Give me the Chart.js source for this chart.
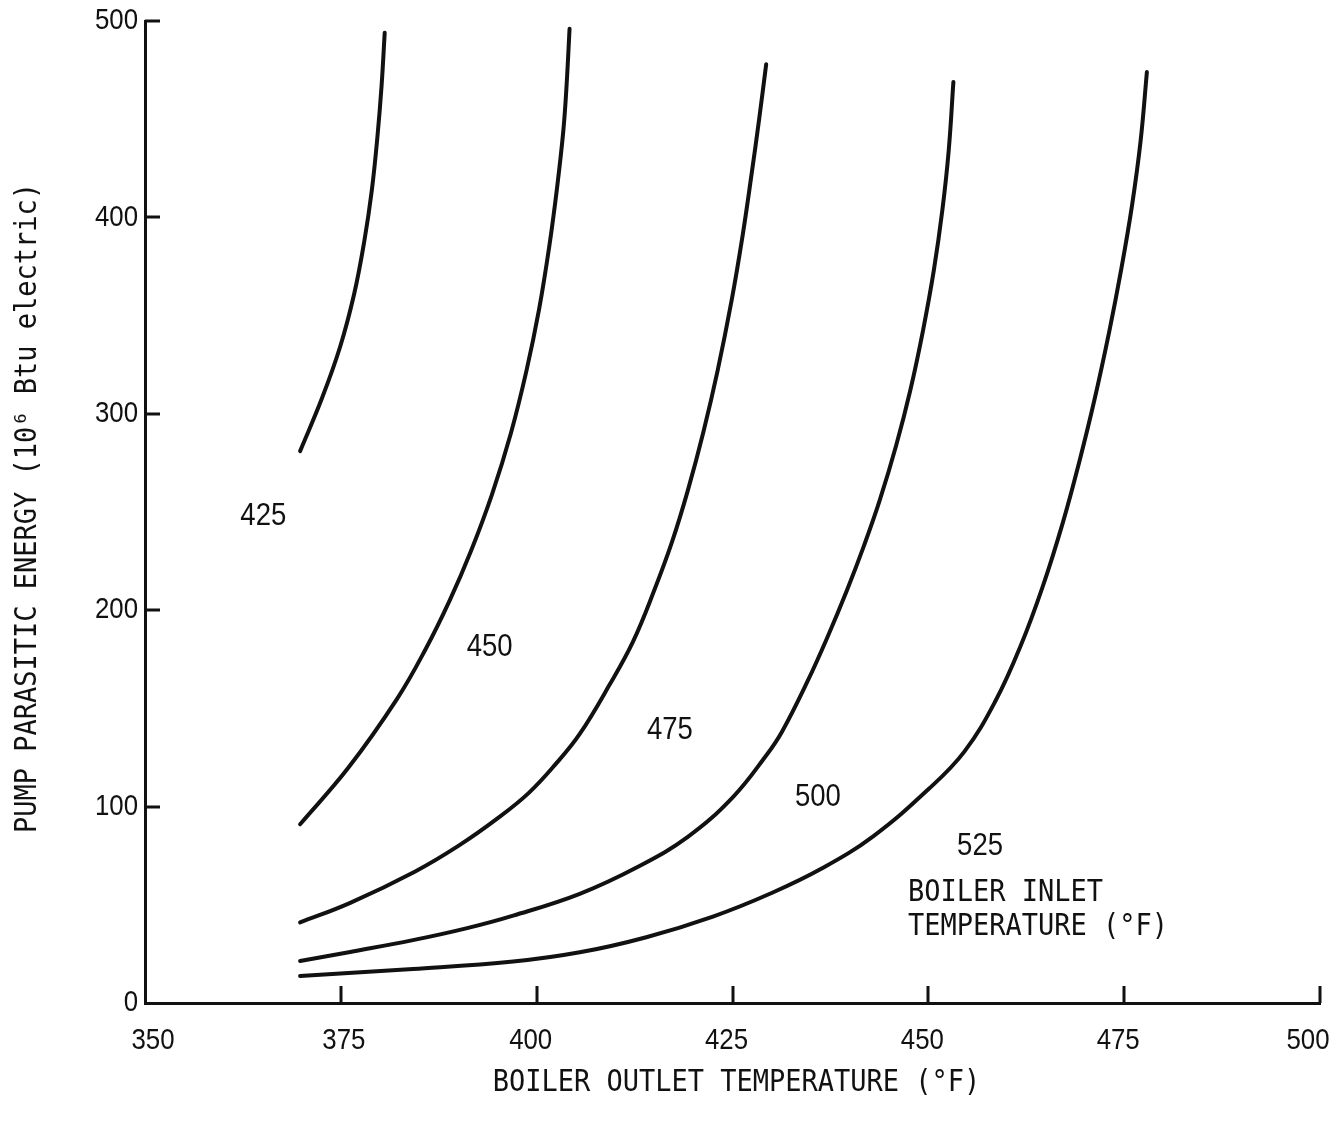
<!DOCTYPE html>
<html>
<head>
<meta charset="utf-8">
<script src="https://cdn.jsdelivr.net/npm/chart.js@4.4.1/dist/chart.umd.min.js"></script>
<style>
  html, body { margin: 0; padding: 0; background: #fff; }
  #wrap { width: 1336px; height: 1129px; }
</style>
</head>
<body>
<div id="wrap"><canvas id="chart" width="1336" height="1129"></canvas></div>
<script>
// Boiler inlet temperatures (°F), one curve each
const inletTemps = [425, 450, 475, 500, 525];

// Boiler outlet temperature (°F) and pump parasitic energy (10^6 Btu electric)
const outlet425 = [369.8, 372.6, 374.9, 376.7, 378.0, 378.96, 379.67, 380.2, 380.6];
const energy425 = [281, 308, 334, 361, 388, 414, 441, 467, 494];

const outlet450 = [369.8, 376.0, 382.2, 385.8, 388.9, 391.6, 394.3, 396.7, 398.7, 400.3, 401.6, 402.6, 403.4, 403.8, 404.2];
const energy450 = [91, 120, 155, 180, 205, 230, 259, 290, 322, 353, 385, 415, 444, 466, 496];

const outlet475 = [369.8, 376.2, 384.5, 390.0, 395.0, 399.0, 402.5, 405.5, 409.3, 412.3, 415.0, 417.3, 419.3, 421.3, 423.1, 424.9, 426.3, 427.4, 428.4, 429.3];
const energy475 = [41, 51, 67, 80, 94, 107, 122, 137, 162, 184, 210, 235, 261, 291, 322, 358, 391, 421, 450, 478];

const outlet500 = [369.8, 376.2, 384.2, 391.0, 397.0, 405.5, 413.0, 419.3, 425.0, 429.3, 431.3, 434.6, 437.2, 439.6, 441.8, 443.8, 445.9, 447.7, 449.3, 450.7, 451.8, 452.6, 453.2];
const energy500 = [21.4, 26, 32, 38, 44.5, 55.6, 69.5, 84.6, 104.6, 126, 138, 164, 187, 210, 233, 256, 284, 312, 342, 373, 404, 434, 469];

const outlet525 = [369.8, 384.2, 397.0, 405.5, 414.0, 422.5, 430.0, 436.5, 443.0, 450.0, 454.6, 458.6, 461.8, 464.6, 467.2, 469.3, 471.2, 473.1, 474.6, 476.0, 477.1, 477.9];
const energy525 = [13.8, 17.3, 21.1, 25.8, 33.5, 44, 56, 68.7, 85, 108.8, 128, 154, 182, 212, 245, 276, 307, 342, 373, 406, 439, 474];

// Axis ticks
const xTicks = [350, 375, 400, 425, 450, 475, 500];
const yTicks = [0, 100, 200, 300, 400, 500];

// Axis titles
const xTitle = 'BOILER OUTLET TEMPERATURE (°F)';
const yTitle = 'PUMP PARASITIC ENERGY (10⁶ Btu electric)';

const outletSeries = [outlet425, outlet450, outlet475, outlet500, outlet525];
const energySeries = [energy425, energy450, energy475, energy500, energy525];

// Where each curve's inlet-temperature tag sits, in axis units
const tagAnchors = [
  { x: 365.1, y: 248 },
  { x: 394.0, y: 181 },
  { x: 417.0, y: 139 },
  { x: 435.9, y: 105 },
  { x: 456.6, y: 80 }
];
const noteLines = ['BOILER INLET', 'TEMPERATURE (°F)'];
const noteAnchor = { x: 447.4, y: 56, lineStep: 17.3 };

const INK = '#111';
const digitFont = "'Liberation Sans', Arimo, 'DejaVu Sans', sans-serif";
const typeFont = "'DejaVu Sans Mono', 'Liberation Mono', monospace";
const DIGIT_SQUEEZE = 0.86; // narrow figures
const TYPE_SQUEEZE = 0.9;   // narrow typewriter lettering

function squeezedText(ctx, text, px, py, align, squeeze, angle) {
  ctx.save();
  ctx.translate(px, py);
  if (angle) ctx.rotate(angle);
  ctx.scale(squeeze, 1);
  ctx.textAlign = align;
  ctx.fillText(text, 0, 0);
  ctx.restore();
}

const datasets = inletTemps.map((t, i) => ({
  label: String(t),
  data: outletSeries[i].map((x, k) => ({ x: x, y: energySeries[i][k] })),
  borderColor: INK,
  borderWidth: 4,
  pointRadius: 0,
  fill: false,
  showLine: true,
  tension: 0.4,
  borderCapStyle: 'round',
  borderJoinStyle: 'round'
}));

// Inward tick marks, axis figures and titles, curve tags and the inlet note
const annotate = {
  id: 'annotate',
  afterDraw(chart) {
    const { ctx, chartArea, scales: { x, y } } = chart;
    const left = x.left, bottom = y.bottom;
    ctx.save();
    ctx.strokeStyle = INK;
    ctx.fillStyle = INK;
    ctx.lineWidth = 3;
    ctx.lineCap = 'butt';
    xTicks.slice(1).forEach(v => {
      const px = Math.round(x.getPixelForValue(v));
      ctx.beginPath();
      ctx.moveTo(px, bottom);
      ctx.lineTo(px, bottom - 17);
      ctx.stroke();
    });
    yTicks.slice(1).forEach(v => {
      const py = Math.round(y.getPixelForValue(v));
      ctx.beginPath();
      ctx.moveTo(left, py);
      ctx.lineTo(left + 15, py);
      ctx.stroke();
    });

    ctx.textBaseline = 'middle';
    ctx.font = "30px " + digitFont;
    xTicks.forEach((v, i) => {
      const nudge = i === 0 ? 8 : (i === 1 ? 3 : (i === xTicks.length - 1 ? -12 : -6));
      squeezedText(ctx, String(v), x.getPixelForValue(v) + nudge, bottom + 38, 'center', DIGIT_SQUEEZE);
    });
    yTicks.forEach(v => {
      squeezedText(ctx, String(v), left - 7, y.getPixelForValue(v), 'right', DIGIT_SQUEEZE);
    });

    ctx.font = "32px " + digitFont;
    inletTemps.forEach((t, i) => {
      squeezedText(ctx, String(t), x.getPixelForValue(tagAnchors[i].x), y.getPixelForValue(tagAnchors[i].y), 'center', DIGIT_SQUEEZE);
    });

    ctx.font = "30px " + typeFont;
    noteLines.forEach((line, i) => {
      squeezedText(ctx, line, x.getPixelForValue(noteAnchor.x), y.getPixelForValue(noteAnchor.y - i * noteAnchor.lineStep), 'left', TYPE_SQUEEZE);
    });

    const midX = (chartArea.left + chartArea.right) / 2 + 4;
    const midY = (chartArea.top + chartArea.bottom) / 2 - 4;
    squeezedText(ctx, xTitle, midX, chart.height - 46, 'center', TYPE_SQUEEZE);
    squeezedText(ctx, yTitle, 28, midY, 'center', TYPE_SQUEEZE, -Math.PI / 2);
    ctx.restore();
  }
};

new Chart(document.getElementById('chart'), {
  type: 'scatter',
  data: { datasets },
  options: {
    responsive: false,
    animation: false,
    layout: { padding: { top: 21, right: 16, bottom: 0, left: 0 } },
    plugins: { legend: { display: false }, tooltip: { enabled: false } },
    scales: {
      x: {
        type: 'linear',
        min: 350,
        max: 500,
        afterBuildTicks: s => { s.ticks = xTicks.map(v => ({ value: v })); },
        afterFit: s => { s.height = 126; s.paddingLeft = 0; s.paddingRight = 0; },
        grid: { display: true, drawOnChartArea: false, drawTicks: false },
        border: { display: true, color: INK, width: 3 },
        ticks: { display: false },
        title: { display: false, text: xTitle }
      },
      y: {
        type: 'linear',
        min: 0,
        max: 500,
        afterBuildTicks: s => { s.ticks = yTicks.map(v => ({ value: v })); },
        afterFit: s => { s.width = 145; s.paddingTop = 0; s.paddingBottom = 0; },
        grid: { display: true, drawOnChartArea: false, drawTicks: false },
        border: { display: true, color: INK, width: 3 },
        ticks: { display: false },
        title: { display: false, text: yTitle }
      }
    }
  },
  plugins: [annotate]
});
</script>
</body>
</html>
